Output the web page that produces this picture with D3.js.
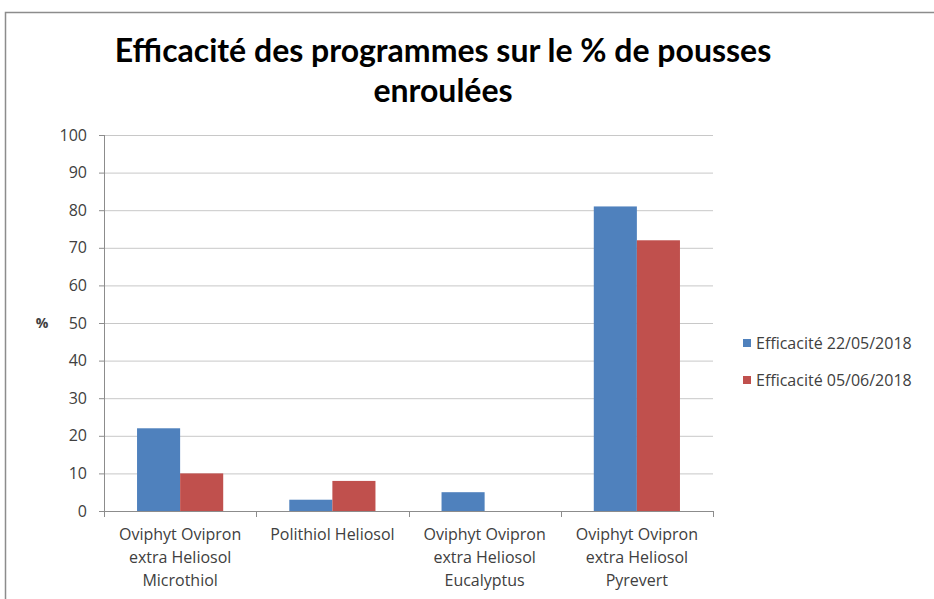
<!DOCTYPE html>
<html>
<head>
<meta charset="utf-8">
<script src="https://cdn.jsdelivr.net/npm/d3@7"></script>
<style>
  body { margin: 0; background: #fff; }
  text { font-family: 'Open Sans', sans-serif; }
</style>
</head>
<body>
<div class="bar-chart-container"></div>
<script>
// catégories (axe X)
const categories = [
    'Oviphyt Ovipron extra Heliosol Microthiol',
    'Polithiol Heliosol',
    'Oviphyt Ovipron extra Heliosol Eucalyptus',
    'Oviphyt Ovipron extra Heliosol Pyrevert'
];
// séries
const seriesNames = ['Efficacité 22/05/2018', 'Efficacité 05/06/2018'];
const values2205 = [22, 3, 5, 81];
const values0506 = [10, 8, 0, 72];
const seriesColors = ['#4f81bd', '#c0504d'];
// graduations Y
const yTicks = [0, 10, 20, 30, 40, 50, 60, 70, 80, 90, 100];

const titleLines = ['Efficacité des programmes sur le % de pousses', 'enroulées'];

function prepareData() {
    return categories.map((c, i) => ({
        category: c,
        values: [
            { name: seriesNames[0], value: values2205[i], color: seriesColors[0] },
            { name: seriesNames[1], value: values0506[i], color: seriesColors[1] }
        ]
    }));
}

// coupe un label en plusieurs lignes selon la largeur dispo
function wrap(texts, width) {
    texts.each(function () {
        const text = d3.select(this);
        const words = text.text().split(/\s+/);
        const x = text.attr('x');
        const lineH = 23;
        let line = [];
        let tspan = text.text(null).append('tspan').attr('x', x).attr('dy', 0);
        words.forEach(w => {
            line.push(w);
            tspan.text(line.join(' '));
            if (tspan.node().getComputedTextLength() > width && line.length > 1) {
                line.pop();
                tspan.text(line.join(' '));
                line = [w];
                tspan = text.append('tspan').attr('x', x).attr('dy', lineH).text(w);
            }
        });
    });
}

function setupCanvas(barData) {
    const svg_width = 934;
    const svg_height = 599;
    const plot = { left: 104, right: 713, top: 135, bottom: 511 };
    const fontSize = '16px';

    const svg = d3.select('.bar-chart-container').append('svg')
        .attr('width', svg_width).attr('height', svg_height);

    // cadre du graphique
    svg.append('rect')
        .attr('x', 5.5).attr('y', 12.5)
        .attr('width', 960).attr('height', 620)
        .style('fill', 'none').style('stroke', '#8c8c8c').style('stroke-width', 1.5);

    // scales
    const xScale = d3.scaleBand().domain(categories).range([plot.left, plot.right]).padding(0);
    const groupW = xScale.bandwidth() * 0.566;
    const xSub = d3.scaleBand().domain(seriesNames).range([0, groupW]).padding(0);
    const yScale = d3.scaleLinear().domain([0, 100]).range([plot.bottom, plot.top]);

    // grille + axe Y
    const yAxis = d3.axisLeft(yScale).tickValues(yTicks)
        .tickSizeInner(-(plot.right - plot.left)).tickSizeOuter(0).tickPadding(17);
    const yAxisDraw = svg.append('g').attr('class', 'y axis')
        .attr('transform', `translate(${plot.left},0)`)
        .call(yAxis);
    yAxisDraw.select('.domain').remove();
    yAxisDraw.selectAll('.tick line').style('stroke', '#c8c8c8');
    yAxisDraw.selectAll('.tick text')
        .style('font-size', fontSize).style('fill', '#404040');
    // petits traits à gauche de l'axe
    yAxisDraw.selectAll('.tick').append('line')
        .attr('x1', -5).attr('x2', 0)
        .style('stroke', '#8c8c8c');
    // ligne de l'axe Y
    svg.append('line')
        .attr('x1', plot.left + 0.5).attr('x2', plot.left + 0.5)
        .attr('y1', plot.top).attr('y2', plot.bottom)
        .style('stroke', '#8c8c8c');

    // barres
    const groups = svg.append('g').attr('class', 'bars')
        .selectAll('.group').data(barData).enter()
        .append('g').attr('class', 'group')
        .attr('transform', d => `translate(${xScale(d.category) + (xScale.bandwidth() - groupW) / 2},0)`);
    groups.selectAll('rect').data(d => d.values).enter()
        .append('rect')
        .attr('x', d => xSub(d.name))
        .attr('width', xSub.bandwidth())
        .attr('y', d => yScale(d.value))
        .attr('height', d => yScale(0) - yScale(d.value))
        .style('fill', d => d.color);

    // axe X
    const xAxisG = svg.append('g').attr('class', 'x axis');
    xAxisG.append('line')
        .attr('x1', plot.left).attr('x2', plot.right)
        .attr('y1', plot.bottom + 0.5).attr('y2', plot.bottom + 0.5)
        .style('stroke', '#8c8c8c');
    const bounds = categories.map(c => xScale(c)).concat([plot.right]);
    xAxisG.selectAll('.xtick').data(bounds).enter()
        .append('line')
        .attr('x1', d => Math.round(d) + 0.5).attr('x2', d => Math.round(d) + 0.5)
        .attr('y1', plot.bottom).attr('y2', plot.bottom + 6)
        .style('stroke', '#8c8c8c');
    xAxisG.selectAll('.xlabel').data(categories).enter()
        .append('text')
        .attr('x', d => xScale(d) + xScale.bandwidth() / 2)
        .attr('y', 540)
        .style('text-anchor', 'middle')
        .style('font-size', fontSize).style('fill', '#404040')
        .text(d => d)
        .call(wrap, xScale.bandwidth() - 6);

    // titre de l'axe Y
    svg.append('text')
        .attr('x', 42).attr('y', yScale(50) + 5)
        .style('text-anchor', 'middle')
        .style('font-size', '14px').style('font-weight', 'bold').style('fill', '#404040')
        .text('%');

    // titre
    const header = svg.append('text').attr('class', 'title')
        .style('text-anchor', 'middle')
        .style('font-family', 'Lato, sans-serif')
        .style('font-size', '32px').style('font-weight', 'bold').style('fill', '#000');
    header.selectAll('tspan').data(titleLines).enter()
        .append('tspan')
        .attr('x', 443)
        .attr('y', (d, i) => 62 + i * 40)
        .text(d => d);

    // légende
    const legend = svg.append('g').attr('class', 'legend')
        .selectAll('.legend-item').data(seriesNames).enter()
        .append('g')
        .attr('transform', (d, i) => `translate(743,${343 + i * 37})`);
    legend.append('rect')
        .attr('x', 0).attr('y', -4)
        .attr('width', 8).attr('height', 8)
        .style('fill', (d, i) => seriesColors[i]);
    legend.append('text')
        .attr('x', 13).attr('y', 0)
        .style('dominant-baseline', 'central')
        .style('font-size', fontSize).style('fill', '#404040')
        .text(d => d);
}

function ready() {
    const barData = prepareData();
    setupCanvas(barData);
}

ready();
</script>
</body>
</html>
